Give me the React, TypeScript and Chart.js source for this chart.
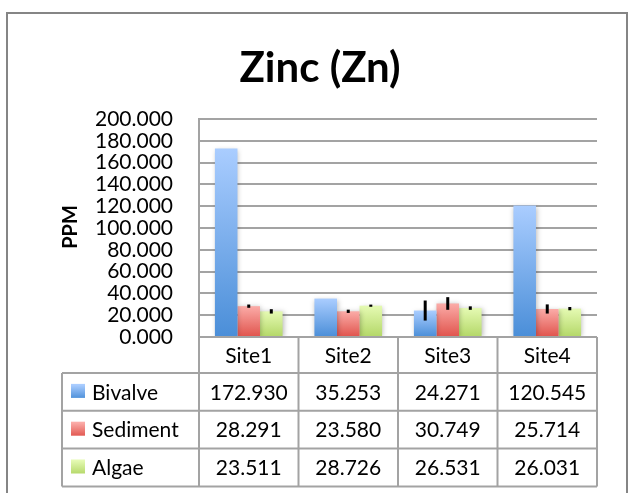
import React, { useEffect, useRef } from "react";
import { Chart, registerables } from "chart.js";

Chart.register(...registerables);

const categories = ["Site1", "Site2", "Site3", "Site4"];
const seriesNames = ["Bivalve", "Sediment", "Algae"];
const bivalve = [172.93, 35.253, 24.271, 120.545];
const sediment = [28.291, 23.58, 30.749, 25.714];
const algae = [23.511, 28.726, 26.531, 26.031];
const bivalveErr = [0, 0, 9.2, 0];
const sedimentErr = [1.5, 1.5, 5.8, 4.2];
const algaeErr = [2, 1, 1.6, 1.5];
const yMin = 0;
const yMax = 200;
const yStep = 20;
const chartTitle = "Zinc (Zn)";
const yAxisTitle = "PPM";

const FAM = "Lato, 'Open Sans', sans-serif";
const colorsTop = ["#AACDFF", "#FBACA8", "#E5FAB3"];
const colorsBot = ["#4A8ED8", "#E0534C", "#B3D767"];
const lineColor = "#A3A3A3";

export default function App() {
  const ref = useRef<HTMLCanvasElement>(null);

  useEffect(() => {
    const canvas = ref.current;
    if (!canvas) return;
    const values = [bivalve, sediment, algae];
    const errs = [bivalveErr, sedimentErr, algaeErr];

    const datasets = values.map((d, i) => ({
      label: seriesNames[i],
      data: d,
      backgroundColor: (c: any) => {
        const chart = c.chart;
        const { ctx, chartArea, scales } = chart;
        if (!chartArea || c.raw === undefined || !scales.y) return colorsBot[i];
        const top = scales.y.getPixelForValue(c.raw);
        const bot = scales.y.getPixelForValue(0);
        const g = ctx.createLinearGradient(0, top, 0, bot);
        g.addColorStop(0, colorsTop[i]);
        g.addColorStop(1, colorsBot[i]);
        return g;
      },
      borderWidth: 0,
      categoryPercentage: 0.68,
      barPercentage: 1,
    }));

    const barsPlugin = {
      id: "barsExtra",
      beforeDatasetsDraw(chart: any) {
        const ctx = chart.ctx;
        ctx.save();
        ctx.shadowColor = "rgba(0,0,0,0.28)";
        ctx.shadowBlur = 5;
        ctx.shadowOffsetX = 1;
        ctx.shadowOffsetY = 1;
      },
      afterDatasetsDraw(chart: any) {
        const ctx = chart.ctx;
        ctx.restore();
        const y = chart.scales.y;
        errs.forEach((arr, di) => {
          const meta = chart.getDatasetMeta(di);
          meta.data.forEach((el: any, i: number) => {
            const e = arr[i];
            if (!e) return;
            const v = values[di][i];
            ctx.save();
            ctx.strokeStyle = "#000";
            ctx.lineWidth = 3;
            ctx.beginPath();
            ctx.moveTo(el.x, y.getPixelForValue(v + e));
            ctx.lineTo(el.x, y.getPixelForValue(v - e));
            ctx.stroke();
            ctx.restore();
          });
        });
      },
    };

    const decoPlugin = {
      id: "deco",
      afterDraw(chart: any) {
        const ctx = chart.ctx;
        const area = chart.chartArea;
        const xs = chart.scales.x;
        ctx.save();
        // outer border
        ctx.strokeStyle = "#858585";
        ctx.lineWidth = 2;
        ctx.strokeRect(7, 13, 620, 520);

        // title
        ctx.fillStyle = "#000";
        ctx.font = `bold 42px ${FAM}`;
        ctx.textAlign = "center";
        ctx.textBaseline = "middle";
        ctx.fillText(chartTitle, 320, 68);

        // y title
        ctx.save();
        ctx.translate(71, 227);
        ctx.rotate(-Math.PI / 2);
        ctx.font = `bold 20px ${FAM}`;
        ctx.fillText(yAxisTitle, 0, 0);
        ctx.restore();

        // table
        const n = categories.length;
        const colW = (area.right - area.left) / n;
        const bounds: number[] = [];
        for (let i = 0; i <= n; i++) bounds.push(area.left + i * colW);
        const top = area.bottom;
        const headerBottom = top + 36;
        const rowH = 37.8;
        const rows = seriesNames.length;
        const tableBottom = headerBottom + rows * rowH;
        const legendLeft = 62;

        ctx.strokeStyle = lineColor;
        ctx.lineWidth = 2;
        ctx.beginPath();
        ctx.moveTo(area.left, top);
        ctx.lineTo(area.right, top);
        for (let r = 0; r <= rows; r++) {
          const yy = headerBottom + r * rowH;
          ctx.moveTo(legendLeft, yy);
          ctx.lineTo(area.right, yy);
        }
        bounds.forEach((bx) => {
          ctx.moveTo(bx, top);
          ctx.lineTo(bx, tableBottom);
        });
        ctx.moveTo(legendLeft, headerBottom);
        ctx.lineTo(legendLeft, tableBottom);
        ctx.stroke();

        ctx.fillStyle = "#000";
        ctx.font = `21px ${FAM}`;
        ctx.textBaseline = "middle";
        ctx.textAlign = "center";
        categories.forEach((c, i) => {
          ctx.fillText(c, xs.getPixelForValue(i), (top + headerBottom) / 2 + 1);
        });
        seriesNames.forEach((s, r) => {
          const cy = headerBottom + r * rowH + rowH / 2;
          const g = ctx.createLinearGradient(0, cy - 7, 0, cy + 7);
          g.addColorStop(0, colorsTop[r]);
          g.addColorStop(1, colorsBot[r]);
          ctx.fillStyle = g;
          ctx.fillRect(71, cy - 8, 14, 14);
          ctx.fillStyle = "#000";
          ctx.textAlign = "left";
          ctx.fillText(s, 92, cy + 1);
          ctx.textAlign = "center";
          values[r].forEach((v, i) => {
            ctx.fillText(v.toFixed(3), xs.getPixelForValue(i), cy + 1);
          });
        });
        ctx.restore();
      },
    };

    const chart = new Chart(canvas, {
      type: "bar",
      data: { labels: categories, datasets },
      plugins: [barsPlugin, decoPlugin],
      options: {
        animation: false,
        responsive: false,
        maintainAspectRatio: false,
        layout: { padding: { left: 0, top: 119, right: 32, bottom: 156 } },
        plugins: {
          legend: { display: false },
          title: { display: false },
          tooltip: { enabled: false },
        },
        scales: {
          x: { display: false },
          y: {
            min: yMin,
            max: yMax,
            afterFit: (s: any) => {
              s.width = 199;
            },
            border: { display: true, color: lineColor, width: 2 },
            grid: { color: lineColor, lineWidth: 2, drawTicks: false },
            ticks: {
              stepSize: yStep,
              autoSkip: false,
              padding: 26,
              color: "#000",
              font: { family: FAM, size: 21 },
              callback: (v: any) => Number(v).toFixed(3),
            },
          },
        },
      },
    });
    return () => chart.destroy();
  }, []);

  return (
    <div style={{ position: "fixed", left: 0, top: 0, width: 629, height: 493, background: "#fff" }}>
      <canvas ref={ref} width={629} height={493} style={{ display: "block", width: 629, height: 493 }} />
    </div>
  );
}
